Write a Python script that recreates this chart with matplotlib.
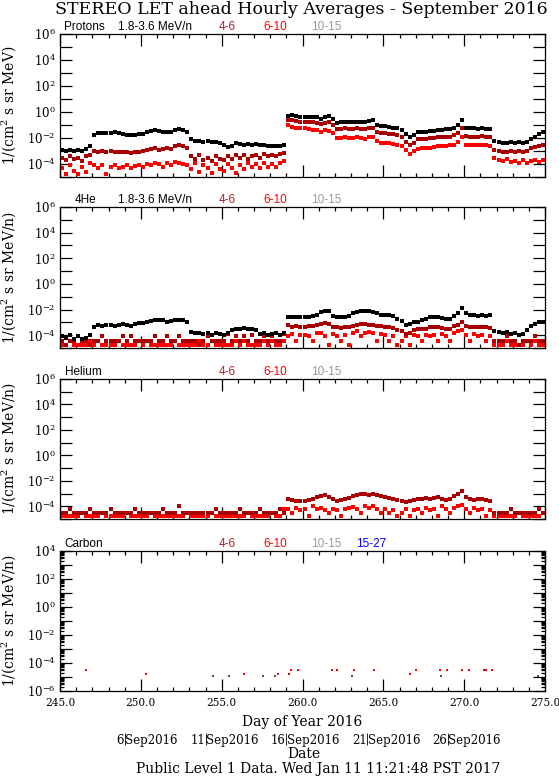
import numpy as np
import matplotlib
matplotlib.use("Agg")
import matplotlib.pyplot as plt
import matplotlib.transforms as mtransforms
from matplotlib.ticker import FixedLocator, FuncFormatter, MultipleLocator, LogLocator, NullLocator, NullFormatter

plt.rcParams['font.family'] = ['DejaVu Serif']
plt.rcParams['mathtext.fontset'] = 'dejavuserif'

# ---------------- data (log10 of intensity, 6-hourly samples, day 245 .. 275) ----------------
DAY_START = 245.0
DAY_END = 275.0
SAMPLES_PER_DAY = 4

# Panel 1: Protons
p1_black = [
    -2.9, -3.0, -2.9, -3.0,   -2.9, -3.0, -2.85, -2.6,   -1.75, -1.6, -1.6, -1.65,
    -1.6, -1.55, -1.6, -1.7,  -1.75, -1.8, -1.75, -1.7,  -1.7, -1.55, -1.45, -1.35,
    -1.45, -1.5, -1.55, -1.5, -1.35, -1.3, -1.35, -1.5,  -2.1, -2.25, -2.2, -2.3,
    -2.25, -2.3, -2.3, -2.35, -2.5, -2.7, -2.6, -2.4,    -2.45, -2.5, -2.45, -2.5,
    -2.45, -2.55, -2.5, -2.6, -2.6, -2.65, -2.6, -2.5,   -0.3, -0.25, -0.3, -0.35,
    -0.35, -0.4, -0.35, -0.35, -0.5, -0.35, -0.3, -0.55, -0.85, -0.75, -0.75, -0.8,
    -0.8, -0.75, -0.75, -0.8, -0.7, -0.65, -1.0, -1.1,   -1.1, -1.15, -1.2, -1.25,
    -1.35, -1.7, -1.95, -1.8, -1.55, -1.5, -1.5, -1.45,  -1.45, -1.4, -1.35, -1.3,
    -1.3, -1.2, -1.0, -0.6,   -1.2, -1.25, -1.25, -1.3,  -1.25, -1.3, -1.3, -2.25,
    -2.3, -2.35, -2.35, -2.3, -2.35, -2.3, -2.35, -2.3,  -2.1, -1.9, -1.7, -1.5,
]
p1_darkred = [
    -3.5, -3.7, -3.4, -3.6,   -3.5, -3.8, -3.4, -3.3,    -3.0, -3.05, -3.0, -3.1,
    -3.0, -3.05, -3.1, -3.05, -3.1, -3.15, -3.1, -3.05,  -3.0, -2.95, -2.85, -2.8,
    -2.9, -2.85, -2.8, -2.85, -2.6, -2.55, -2.6, -2.8,   -3.4, -3.6, -3.3, -3.7,
    -3.5, -3.8, -3.4, -3.6,   -3.7, -3.4, -3.6, -3.3,    -3.5, -3.3, -3.6, -3.4,
    -3.3, -3.5, -3.2, -3.4,   -3.3, -3.4, -3.2, -3.15,   -0.6, -0.65, -0.7, -0.75,
    -0.75, -0.8, -0.8, -0.85, -0.95, -0.85, -0.8, -1.0,  -1.3, -1.3, -1.25, -1.3,
    -1.3, -1.25, -1.3, -1.3,  -1.25, -1.2, -1.55, -1.65, -1.65, -1.7, -1.7, -1.8,
    -1.9, -2.3, -2.55, -2.35, -2.1, -2.1, -2.05, -2.0,   -2.0, -1.95, -1.95, -1.9,
    -1.9, -1.8, -1.6, -1.25,  -1.85, -1.9, -1.9, -1.9,   -1.85, -1.9, -1.9, -2.9,
    -3.0, -3.05, -3.05, -3.0, -3.05, -3.0, -3.05, -3.0,  -2.8, -2.7, -2.6, -2.55,
]
p1_red = [
    -4.3, -4.8, -4.1, -4.5,   -4.8, -4.2, -4.6, -3.9,    -4.1, -4.3, -4.05, -4.8,
    -4.2, -4.1, -4.3, -4.2,   -4.1, -4.3, -4.15, -4.05,  -4.2, -4.0, -4.1, -3.9,
    -4.0, -4.2, -3.95, -4.05, -3.85, -3.9, -4.0, -4.1,   -4.4, -3.9, -4.6, -4.1,
    -4.3, -4.7, -4.0, -4.4,   -4.5, -4.0, -4.3, -4.7,    -4.1, -4.4, -3.9, -4.2,
    -4.0, -4.3, -3.9, -4.2,   -4.0, -4.2, -3.9, -3.8,    -1.0, -1.15, -1.2, -1.25,
    -1.25, -1.3, -1.35, -1.35, -1.5, -1.4, -1.45, -1.65, -2.0, -2.0, -1.95, -2.0,
    -2.0, -1.95, -2.0, -2.05, -1.95, -1.95, -2.2, -2.35, -2.4, -2.4, -2.45, -2.5,
    -2.6, -2.9, -3.2, -3.0,   -2.85, -2.8, -2.8, -2.75,  -2.7, -2.65, -2.6, -2.6,
    -2.55, -2.5, -2.3, -1.9,  -2.5, -2.55, -2.55, -2.55, -2.5, -2.55, -2.6, -3.5,
    -3.7, -3.8, -3.6, -3.85,  -3.75, -3.9, -3.7, -3.95,  -3.8, -3.7, -3.85, -3.7,
]

# Panel 2: 4He
p2_black = [
    -4.1, -4.2, -4.0, -4.3,   -4.1, -4.3, -4.2, -4.0,    -3.35, -3.2, -3.25, -3.2,
    -3.2, -3.25, -3.2, -3.15, -3.2, -3.25, -3.15, -3.05, -3.05, -3.0, -2.9, -2.85,
    -2.8, -2.85, -2.95, -2.9, -2.85, -2.8, -2.85, -3.0,  -3.75, -3.85, -3.8, -3.9,
    -3.85, -3.95, -3.8, -3.9, -3.95, -3.8, -3.6, -3.5,   -3.5, -3.45, -3.55, -3.5,
    -3.6, -3.9, -3.85, -3.95, -3.9, -3.85, -3.95, -3.8,  -2.6, -2.6, -2.55, -2.6,
    -2.6, -2.55, -2.5, -2.4,  -2.2, -2.1, -2.15, -2.5,   -2.55, -2.6, -2.55, -2.5,
    -2.3, -2.2, -2.15, -2.15, -2.15, -2.2, -2.3, -2.4,   -2.4, -2.45, -2.5, -2.7,
    -2.9, -3.2, -3.1, -2.95,  -2.95, -2.85, -2.75, -2.6, -2.55, -2.6, -2.65, -2.7,
    -2.7, -2.5, -2.3, -1.9,   -2.3, -2.45, -2.45, -2.5,  -2.45, -2.5, -2.45, -3.7,
    -3.75, -3.8, -3.75, -3.9, -3.85, -4.0, -3.9, -3.6,   -3.3, -3.1, -2.95, -2.95,
]
p2_darkred = [
    -4.45, -4.8, -4.45, -4.45, -4.1, -4.45, -4.45, -4.8, -4.45, -4.45, -4.1, -4.45,
    -4.45, -4.45, -4.45, -4.1, -4.45, -4.1, -4.45, -4.45, -4.45, -4.45, -4.45, -4.1,
    -4.45, -4.45, -4.1, -4.45, -4.45, -4.1, -4.45, -4.45, -4.45, -4.45, -4.8, -4.45,
    -4.1, -4.45, -4.45, -4.45, -4.45, -3.9, -4.45, -4.1, -4.45, -4.1, -4.45, -3.95,
    -4.45, -4.45, -4.1, -4.45, -4.1, -4.45, -4.45, -3.9, -3.2, -3.35, -3.3, -3.4,
    -3.35, -3.3, -3.25, -3.2, -3.15, -3.05, -3.1, -3.35, -3.4, -3.45, -3.4, -3.35,
    -3.25, -3.2, -3.15, -3.15, -3.2, -3.2, -3.3, -3.3,   -3.35, -3.4, -3.45, -3.6,
    -3.7, -3.9, -3.8, -3.6,   -3.55, -3.5, -3.5, -3.4,   -3.35, -3.4, -3.45, -3.5,
    -3.5, -3.3, -3.2, -2.95,  -3.25, -3.35, -3.4, -3.35, -3.35, -3.4, -3.45, -4.45,
    -4.45, -4.45, -4.1, -4.45, -4.45, -4.8, -4.45, -4.45, -4.45, -4.1, -4.45, -4.45,
]
p2_red = [
    -4.8, -4.8, -4.45, -4.8,  -4.8, -4.8, -4.8, -4.45,   -4.8, -4.45, -4.8, -4.8,
    -4.8, -4.8, -4.45, -4.8,  -4.8, -4.8, -4.8, -4.45,   -4.8, -4.45, -4.8, -4.8,
    -4.8, -4.8, -4.8, -4.8,   -4.45, -4.8, -4.8, -4.8,   -4.8, -4.8, -4.45, -4.8,
    -4.8, -4.45, -4.8, -4.8,  -4.8, -4.8, -4.8, -4.45,   -4.8, -4.45, -4.8, -4.8,
    -4.8, -4.8, -4.45, -4.8,  -4.45, -4.8, -4.8, -4.45,  -4.1, -3.9, -4.45, -4.0,
    -3.95, -4.1, -4.45, -3.85, -3.8, -4.1, -4.8, -3.9,   -4.1, -4.45, -4.0, -4.8,
    -3.85, -3.7, -4.1, -3.8,  -3.75, -3.85, -4.45, -3.9, -4.0, -4.45, -4.1, -4.8,
    -4.45, -4.1, -4.8, -4.0,  -4.1, -4.45, -3.95, -4.1,  -4.0, -4.45, -3.9, -4.1,
    -4.45, -3.85, -3.7, -3.6, -4.0, -4.45, -3.9, -4.1,   -4.0, -4.45, -4.1, -4.8,
    -4.8, -4.8, -4.45, -4.8,  -4.8, -4.8, -4.8, -4.45,   -4.8, -4.45, -4.8, -4.8,
]

# Panel 3: Helium
p3_darkred = [
    -4.5, -4.5, -4.2, -4.5,   -4.5, -4.5, -4.5, -4.2,    -4.5, -4.5, -4.5, -4.5,
    -4.2, -4.5, -4.5, -4.5,   -4.5, -4.5, -4.2, -4.5,    -4.5, -4.5, -4.5, -4.5,
    -4.5, -4.2, -4.5, -4.5,   -4.5, -3.95, -4.5, -4.5,   -4.5, -4.5, -4.5, -4.5,
    -4.5, -4.5, -4.2, -4.5,   -4.5, -4.5, -4.5, -4.5,    -4.2, -4.5, -4.5, -4.5,
    -4.5, -4.2, -4.5, -4.5,   -4.5, -4.5, -4.2, -4.5,    -3.4, -3.5, -3.55, -3.6,
    -3.55, -3.5, -3.4, -3.3,  -3.2, -3.15, -3.25, -3.45, -3.6, -3.5, -3.45, -3.35,
    -3.2, -3.1, -3.05, -3.05, -3.1, -3.05, -3.1, -3.2,   -3.3, -3.35, -3.4, -3.5,
    -3.55, -3.65, -3.6, -3.5, -3.45, -3.4, -3.35, -3.4,  -3.35, -3.3, -3.4, -3.5,
    -3.4, -3.2, -3.0, -2.8,   -3.3, -3.45, -3.5, -3.4,   -3.45, -3.5, -3.55, -4.5,
    -4.5, -4.5, -4.5, -4.2,   -4.5, -4.5, -4.5, -4.5,    -4.5, -4.5, -4.2, -4.5,
]
p3_red = [
    -4.8, -4.8, -4.8, -4.8,   -4.8, -4.5, -4.8, -4.8,    -4.8, -4.8, -4.5, -4.8,
    -4.8, -4.8, -4.8, -4.8,   -4.5, -4.8, -4.8, -4.8,    -4.8, -4.8, -4.5, -4.8,
    -4.8, -4.8, -4.8, -4.8,   -4.8, -4.8, -4.8, -4.5,    -4.8, -4.8, -4.8, -4.8,
    -4.8, -4.5, -4.8, -4.8,   -4.8, -4.8, -4.8, -4.8,    -4.8, -4.8, -4.5, -4.8,
    -4.8, -4.8, -4.8, -4.8,   -4.5, -4.8, -4.8, -4.2,    -4.2, -4.5, -4.1, -4.3,
    -4.2, -4.8, -4.0, -4.25,  -4.1, -4.3, -4.5, -4.2,    -4.3, -4.8, -4.2, -4.1,
    -4.05, -4.2, -4.5, -4.0,  -4.1, -4.0, -4.2, -4.5,    -4.2, -4.5, -4.3, -4.8,
    -4.5, -4.2, -4.8, -4.3,   -4.2, -4.5, -4.1, -4.3,    -4.2, -4.8, -4.0, -4.2,
    -4.5, -4.1, -4.0, -3.9,   -4.2, -4.5, -4.1, -4.3,    -4.2, -4.8, -4.3, -4.8,
    -4.8, -4.8, -4.8, -4.8,   -4.8, -4.5, -4.8, -4.8,    -4.8, -4.8, -4.8, -4.5,
]

# Panel 4: Carbon (sparse hourly detections)
p4_red_days = [246.59, 250.31, 256.39, 258.51, 259.15, 259.30, 259.70, 261.80, 262.11, 263.20,
               264.41, 266.67, 267.04, 268.48, 268.92, 269.87, 270.29, 271.24, 271.35, 271.75]
p4_red_vals = [-4.5, -4.8, -4.8, -4.8, -4.8, -4.5, -4.5, -4.5, -4.5, -4.5,
               -4.5, -4.8, -4.5, -4.5, -4.5, -4.5, -4.5, -4.5, -4.5, -4.5]
p4_gray_days = [254.48, 255.44, 257.58, 258.27, 263.09, 268.59, 274.56]
p4_gray_vals = [-4.92, -4.92, -4.92, -4.92, -4.92, -4.92, -4.92]

# Labels
title = "STEREO LET ahead Hourly Averages - September 2016"
species = ["Protons", "4He", "Helium", "Carbon"]
channel_labels = ["1.8-3.6 MeV/n", "4-6", "6-10", "10-15", "15-27"]
ylabels = [r"1/(cm$^2$ s sr MeV)", r"1/(cm$^2$ s sr MeV/n)",
           r"1/(cm$^2$ s sr MeV/n)", r"1/(cm$^2$ s sr MeV/n)"]
date_labels = ["6Sep2016", "11Sep2016", "16Sep2016", "21Sep2016", "26Sep2016"]
date_ticks = [249.0, 254.0, 259.0, 264.0, 269.0]
footer = "Public Level 1 Data. Wed Jan 11 11:21:48 PST 2017"

# ---------------- styling ----------------
C_BLACK = "#000000"
C_DARKRED = "#A80000"
C_RED = "#FF0000"
C_GRAY = "#999999"
C_BLUE = "#0000FF"
C_LEG_DARKRED = "#B22222"

W, H = 559, 779
fig = plt.figure(figsize=(W / 100, H / 100), dpi=100)

def px_axes(left, top, right, bottom):
    return fig.add_axes([left / W, 1 - bottom / H, (right - left) / W, (bottom - top) / H])

boxes = [(60, 34, 545, 177), (60, 207, 545, 348), (60, 379, 545, 519), (60, 551, 545, 691)]
ylims = [(1e-5, 1e6), (1e-5, 1e6), (1e-5, 1e6), (1e-6, 1e4)]

n = int((DAY_END - DAY_START) * SAMPLES_PER_DAY)
days = DAY_START + (np.arange(n) + 0.5) / SAMPLES_PER_DAY

def exp_fmt(v, pos):
    e = int(round(np.log10(v)))
    return r"$10^{%d}$" % e if e % 2 == 0 else ""

axes = []
for i, box in enumerate(boxes):
    ax = px_axes(*box)
    ax.set_yscale('log')
    ax.set_xlim(DAY_START, DAY_END)
    ax.set_ylim(*ylims[i])
    lo, hi = [int(round(np.log10(v))) for v in ylims[i]]
    ax.yaxis.set_major_locator(FixedLocator(10.0 ** np.arange(lo, hi + 1)))
    ax.yaxis.set_major_formatter(FuncFormatter(exp_fmt))
    if i == 3:
        ax.yaxis.set_minor_locator(LogLocator(base=10, subs=np.arange(2, 10), numticks=50))
    else:
        ax.yaxis.set_minor_locator(NullLocator())
    ax.yaxis.set_minor_formatter(NullFormatter())
    ax.xaxis.set_major_locator(MultipleLocator(5))
    ax.xaxis.set_minor_locator(MultipleLocator(1))
    ax.tick_params(which='both', direction='in', top=True, right=True, width=0.9)
    ax.tick_params(axis='y', labelsize=8.5)
    ax.tick_params(which='major', length=8.5, pad=3)
    ax.tick_params(which='minor', length=3.2)
    if i < 3:
        ax.tick_params(axis='x', labelbottom=False)
    else:
        ax.xaxis.set_major_formatter(FuncFormatter(lambda v, p: "%.1f" % v))
        ax.tick_params(axis='x', pad=5, labelsize=7.6)
    for s in ax.spines.values():
        s.set_linewidth(0.9)
    ax.set_ylabel(ylabels[i], fontsize=10)
    ax.yaxis.set_label_coords(-42 / 485, 0.5)
    axes.append(ax)

def dots(ax, x, logv, color, ms=2.3):
    ax.plot(x, 10.0 ** np.asarray(logv), 's', ms=ms, mew=0, color=color, linestyle='none')

dots(axes[0], days, p1_red, C_RED)
dots(axes[0], days, p1_darkred, C_DARKRED)
dots(axes[0], days, p1_black, C_BLACK)

dots(axes[1], days, p2_red, C_RED)
dots(axes[1], days, p2_darkred, C_DARKRED)
dots(axes[1], days, p2_black, C_BLACK)

dots(axes[2], days, p3_red, C_RED)
dots(axes[2], days, p3_darkred, C_DARKRED)

dots(axes[3], p4_gray_days, p4_gray_vals, "#555555", ms=1.6)
dots(axes[3], p4_red_days, p4_red_vals, C_RED, ms=1.9)

# panel legends
leg_font = dict(family='Liberation Sans', fontsize=8.5, va='bottom', ha='left')
def legend_text(ax, xday, text, color):
    tr = mtransforms.blended_transform_factory(ax.transData, ax.transAxes)
    ax.text(xday, 1.008, text, color=color, transform=tr, clip_on=False, **leg_font)

species_x = [245.25, 245.9, 245.3, 245.3]
for i, ax in enumerate(axes):
    legend_text(ax, species_x[i], species[i], C_BLACK)
    if i < 2:
        legend_text(ax, 248.6, channel_labels[0], C_BLACK)
    legend_text(ax, 254.8, channel_labels[1], C_LEG_DARKRED)
    legend_text(ax, 257.6, channel_labels[2], C_RED)
    legend_text(ax, 260.5, channel_labels[3], C_GRAY)
    if i == 3:
        legend_text(ax, 263.3, channel_labels[4], C_BLUE)

# title and bottom texts
fig.text(301 / W, 1 - 10 / H, title, ha='center', va='center', fontsize=12.5)
fig.text(302 / W, 1 - 722 / H, "Day of Year 2016", ha='center', va='center', fontsize=10)

# date axis
dax = px_axes(60, 736, 545, 745)
dax.set_xlim(DAY_START, DAY_END)
dax.set_ylim(0, 1)
for s in dax.spines.values():
    s.set_visible(False)
dax.set_yticks([])
dax.set_xticks(date_ticks)
dax.set_xticklabels([])
dax.tick_params(axis='x', direction='in', length=9, width=0.6, bottom=True, top=False)
for t, lab in zip(date_ticks, date_labels):
    k = lab.index("Sep")
    dax.text(t - 0.03, 0.55, lab[:k], ha='right', va='center', fontsize=8.5, transform=dax.transData)
    dax.text(t + 0.03, 0.55, lab[k:], ha='left', va='center', fontsize=8.5, transform=dax.transData)

fig.text(304 / W, 1 - 754 / H, "Date", ha='center', va='center', fontsize=10)
fig.text(318 / W, 1 - 769 / H, footer, ha='center', va='center', fontsize=10)

fig.savefig("out.png", dpi=100)
